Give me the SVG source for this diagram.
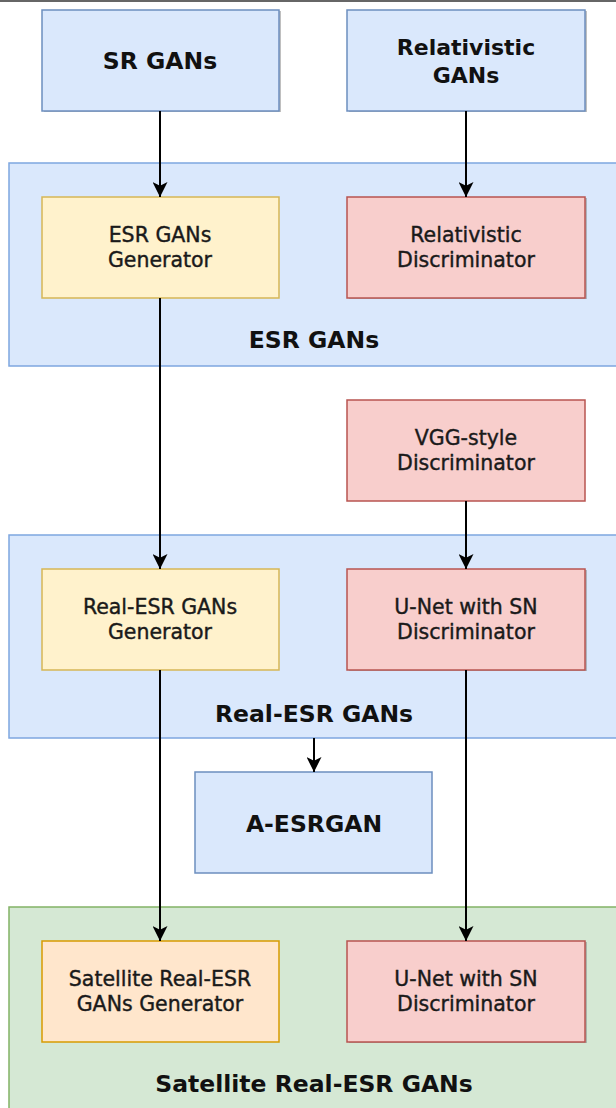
<svg xmlns="http://www.w3.org/2000/svg" width="616" height="1108" viewBox="0 0 616 1108">
<defs>
<style>
.blue{fill:#dae8fc;stroke:#6c8ebf;stroke-width:1.5}
.cont{fill:#dae8fc;stroke:#7ea6e0;stroke-width:1.5}
.green{fill:#d5e8d4;stroke:#82b366;stroke-width:1.5}
.yellow{fill:#fff2cc;stroke:#d6b656;stroke-width:1.5}
.orange{fill:#ffe6cc;stroke:#d79b00;stroke-width:1.5}
.red{fill:#f8cecc;stroke:#b85450;stroke-width:1.5}
.sh{fill:#808080;opacity:0.5}
.t{font-family:"DejaVu Sans",Verdana,sans-serif;font-size:20.5px;fill:#1a1a1a;stroke:#1a1a1a;stroke-width:0.4;text-anchor:middle}
.tb{font-family:"DejaVu Sans",Verdana,sans-serif;font-size:23.5px;font-weight:bold;fill:#111;text-anchor:middle}
.edge{fill:none;stroke:#000;stroke-width:2}
</style>
<marker id="arrow" viewBox="0 0 14 14" refX="14" refY="7" markerWidth="15" markerHeight="15" markerUnits="userSpaceOnUse" orient="auto">
<path d="M0,0 L14,7 L0,14 L3.5,7 Z" fill="#000"/>
</marker>
</defs>
<rect width="616" height="1108" fill="#fff"/>
<line x1="0" y1="1" x2="616" y2="1" stroke="#333" stroke-width="1.5"/>

<g id="esr-gans">
<rect class="cont" x="9" y="163" width="610" height="203"/>
<text class="tb" x="314" y="348">ESR GANs</text>
</g>
<g id="real-esr-gans">
<rect class="cont" x="9" y="535" width="610" height="203"/>
<text class="tb" x="314" y="722">Real-ESR GANs</text>
</g>
<g id="satellite-real-esr-gans">
<rect class="green" x="9" y="907" width="610" height="210"/>
<text class="tb" x="314" y="1092">Satellite Real-ESR GANs</text>
</g>

<g id="sr-gans">
<rect class="sh" x="44" y="11" width="237" height="101"/>
<rect class="blue" x="42" y="10" width="237" height="101"/>
<text class="tb" x="160" y="69">SR GANs</text>
</g>
<g id="relativistic-gans">
<rect class="sh" x="349" y="11" width="238" height="101"/>
<rect class="blue" x="347" y="10" width="238" height="101"/>
<text class="tb" x="466" y="55" style="font-size:22px">Relativistic</text>
<text class="tb" x="466" y="83" style="font-size:22px">GANs</text>
</g>
<g id="esr-generator">
<rect class="yellow" x="42" y="197" width="237" height="101"/>
<text class="t" x="160" y="242">ESR GANs</text>
<text class="t" x="160" y="267">Generator</text>
</g>
<g id="relativistic-discriminator">
<rect class="sh" x="349" y="198" width="238" height="101"/>
<rect class="red" x="347" y="197" width="238" height="101"/>
<text class="t" x="466" y="242">Relativistic</text>
<text class="t" x="466" y="267">Discriminator</text>
</g>
<g id="vgg-discriminator">
<rect class="red" x="347" y="400" width="238" height="101"/>
<text class="t" x="466" y="445">VGG-style</text>
<text class="t" x="466" y="470">Discriminator</text>
</g>
<g id="real-esr-generator">
<rect class="yellow" x="42" y="569" width="237" height="101"/>
<text class="t" x="160" y="614">Real-ESR GANs</text>
<text class="t" x="160" y="639">Generator</text>
</g>
<g id="unet-discriminator-1">
<rect class="sh" x="349" y="570" width="238" height="101"/>
<rect class="red" x="347" y="569" width="238" height="101"/>
<text class="t" x="466" y="614">U-Net with SN</text>
<text class="t" x="466" y="639">Discriminator</text>
</g>
<g id="a-esrgan">
<rect class="blue" x="195" y="772" width="237" height="101"/>
<text class="tb" x="314" y="832">A-ESRGAN</text>
</g>
<g id="satellite-generator">
<rect class="orange" x="42" y="941" width="237" height="101"/>
<text class="t" x="160" y="986">Satellite Real-ESR</text>
<text class="t" x="160" y="1011">GANs Generator</text>
</g>
<g id="unet-discriminator-2">
<rect class="sh" x="349" y="942" width="238" height="101"/>
<rect class="red" x="347" y="941" width="238" height="101"/>
<text class="t" x="466" y="986">U-Net with SN</text>
<text class="t" x="466" y="1011">Discriminator</text>
</g>

<g id="connectors">
<line class="edge" x1="160" y1="111" x2="160" y2="197" marker-end="url(#arrow)"/>
<line class="edge" x1="466" y1="111" x2="466" y2="197" marker-end="url(#arrow)"/>
<line class="edge" x1="160" y1="298" x2="160" y2="569" marker-end="url(#arrow)"/>
<line class="edge" x1="466" y1="501" x2="466" y2="569" marker-end="url(#arrow)" stroke="#555"/>
<line class="edge" x1="314" y1="738" x2="314" y2="772" marker-end="url(#arrow)"/>
<line class="edge" x1="160" y1="670" x2="160" y2="941" marker-end="url(#arrow)"/>
<line class="edge" x1="466" y1="670" x2="466" y2="941" marker-end="url(#arrow)"/>
</g>
</svg>
